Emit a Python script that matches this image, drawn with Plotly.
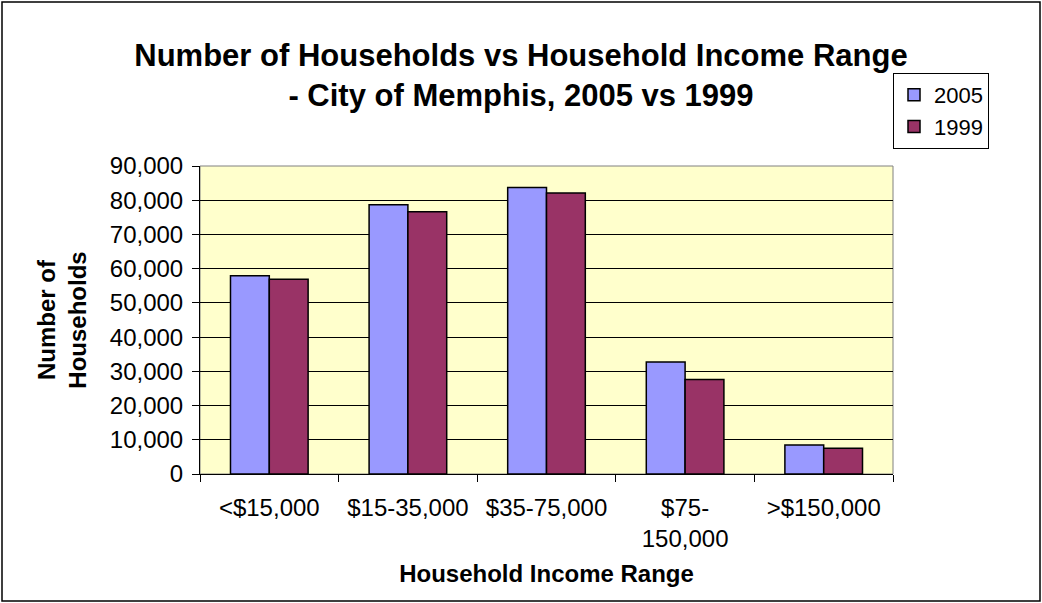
import plotly.graph_objects as go

categories = ["<$15,000", "$15-35,000", "$35-75,000", "$75-<br>150,000", ">$150,000"]
values_2005 = [57900, 78700, 83700, 32700, 8500]
values_1999 = [56900, 76600, 82100, 27600, 7500]
y_ticks = [0, 10000, 20000, 30000, 40000, 50000, 60000, 70000, 80000, 90000]
y_tick_labels = ["0", "10,000", "20,000", "30,000", "40,000", "50,000", "60,000", "70,000", "80,000", "90,000"]

FONT = "Liberation Sans, Arial, sans-serif"

fig = go.Figure()
fig.add_trace(go.Bar(name="2005", x=categories, y=values_2005,
                     marker=dict(color="#9999FF", line=dict(color="black", width=1.5))))
fig.add_trace(go.Bar(name="1999", x=categories, y=values_1999,
                     marker=dict(color="#993366", line=dict(color="black", width=1.5))))

L, R, T, B = 200, 893, 166, 474
W, H = 1042, 603

fig.update_layout(
    width=W, height=H,
    margin=dict(l=L, r=W - R, t=T, b=H - B, pad=0),
    paper_bgcolor="white",
    plot_bgcolor="#FFFFCC",
    barmode="group",
    bargap=0.44,
    bargroupgap=0,
    font=dict(family=FONT, size=24, color="black"),
    title=dict(text="<b>Number of Households vs Household Income Range<br>- City of Memphis, 2005 vs 1999</b>",
               x=0.5, xref="container", xanchor="center",
               y=1 - 66 / H, yref="container", yanchor="middle",
               font=dict(family=FONT, size=31, color="black")),
    showlegend=True,
    legend=dict(x=1.0, xanchor="left", y=(B - 73) / (B - T), yanchor="top",
                bgcolor="white", bordercolor="black", borderwidth=1,
                font=dict(family=FONT, size=22), tracegroupgap=0,
                itemwidth=30),
    xaxis=dict(
        title=dict(text="<b>Household Income Range</b>", font=dict(family=FONT, size=24), standoff=14),
        showline=True, linecolor="black", linewidth=1,
        ticks="outside", tickson="boundaries", ticklen=7, tickcolor="black",
        ticklabelstandoff=12,
        showgrid=False, tickfont=dict(family=FONT, size=24),
    ),
    yaxis=dict(
        title=dict(text="<b>Number of<br>Households</b>", font=dict(family=FONT, size=24), standoff=16),
        range=[0, 90000],
        tickvals=y_ticks, ticktext=y_tick_labels,
        showline=True, linecolor="black", linewidth=1,
        ticks="outside", ticklen=7, tickcolor="black",
        ticklabelstandoff=4,
        showgrid=True, gridcolor="black", gridwidth=1,
        zeroline=False,
        tickfont=dict(family=FONT, size=24),
    ),
)

# plot area border (gray)
fig.add_shape(type="rect", xref="paper", yref="paper", x0=0, x1=1, y0=0, y1=1,
              line=dict(color="#808080", width=1), layer="below")
# outer chart border
fig.add_shape(type="rect", xref="paper", yref="paper",
              x0=(2 - L) / (R - L), x1=(1040 - L) / (R - L),
              y0=(B - 601) / (B - T), y1=(B - 2) / (B - T),
              line=dict(color="black", width=1.5))

fig.write_html("out.html", config={"displayModeBar": False},
               post_script="document.body.style.margin='0';document.body.style.overflow='hidden';")
